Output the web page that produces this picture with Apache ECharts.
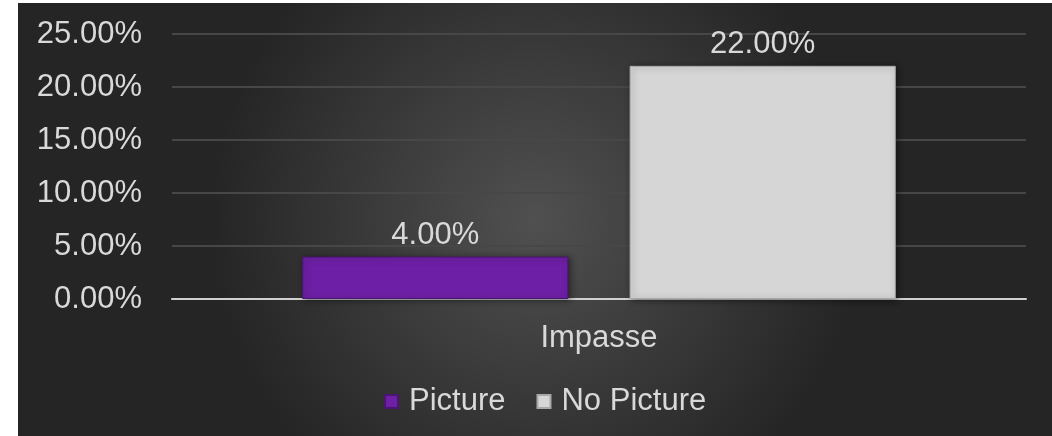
<!DOCTYPE html>
<html>
<head>
<meta charset="utf-8">
<script src="https://cdn.jsdelivr.net/npm/echarts@6/dist/echarts.min.js"></script>
<style>
html,body{margin:0;padding:0;background:#ffffff;}
#chart{position:absolute;left:18px;top:3px;width:1034px;height:433px;}
</style>
</head>
<body>
<div id="chart"></div>
<script>
const categories = ['Impasse'];
const seriesNames = ['Picture', 'No Picture'];
const pictureValues = [4.00];
const noPictureValues = [22.00];
const yTicks = { min: 0, max: 25, interval: 5 };

const font = '"Liberation Sans", Arial, sans-serif';
const chart = echarts.init(document.getElementById('chart'));
chart.setOption({
  backgroundColor: {
    type: 'radial', x: 0.5, y: 0.5, r: 0.75,
    colorStops: [{offset: 0, color: '#505050'}, {offset: 1, color: '#252525'}]
  },
  animation: false,
  textStyle: { fontFamily: font },
  grid: { left: 154, right: 26, top: 31, bottom: 137 },
  legend: {
    data: seriesNames,
    left: 361, top: 378,
    itemWidth: 13, itemHeight: 13, itemGap: 31,
    icon: 'rect',
    textStyle: { color: '#d9d9d9', fontSize: 31, fontFamily: font, padding: [0, 0, 0, 6] }
  },
  xAxis: {
    type: 'category', data: categories,
    axisLine: { lineStyle: { color: '#d0d0d0', width: 2 } },
    axisTick: { show: false },
    axisLabel: { color: '#d9d9d9', fontSize: 31, fontFamily: font, margin: 24 }
  },
  yAxis: {
    type: 'value', min: yTicks.min, max: yTicks.max, interval: yTicks.interval,
    axisLine: { show: false }, axisTick: { show: false },
    splitLine: { lineStyle: { color: '#474747', width: 2 } },
    axisLabel: { color: '#d9d9d9', fontSize: 31, fontFamily: font, margin: 30,
      formatter: v => v.toFixed(2) + '%' }
  },
  series: [
    {
      name: seriesNames[0], type: 'bar', data: pictureValues,
      barGap: '23%', barCategoryGap: '30.5%',
      itemStyle: { color: '#6d1fa5', borderColor: '#4a1672', borderWidth: 1,
        shadowColor: 'rgba(0,0,0,0.45)', shadowBlur: 6, shadowOffsetX: 2, shadowOffsetY: 1 },
      label: { show: true, position: 'top', distance: 6, color: '#d9d9d9', fontSize: 31, fontFamily: font,
        formatter: p => p.value.toFixed(2) + '%' }
    },
    {
      name: seriesNames[1], type: 'bar', data: noPictureValues,
      itemStyle: { color: '#d6d6d6', borderColor: '#a9a9a9', borderWidth: 1,
        shadowColor: 'rgba(0,0,0,0.45)', shadowBlur: 6, shadowOffsetX: 2, shadowOffsetY: 1 },
      label: { show: true, position: 'top', distance: 6, color: '#d9d9d9', fontSize: 31, fontFamily: font,
        formatter: p => p.value.toFixed(2) + '%' }
    }
  ]
});
</script>
</body>
</html>
